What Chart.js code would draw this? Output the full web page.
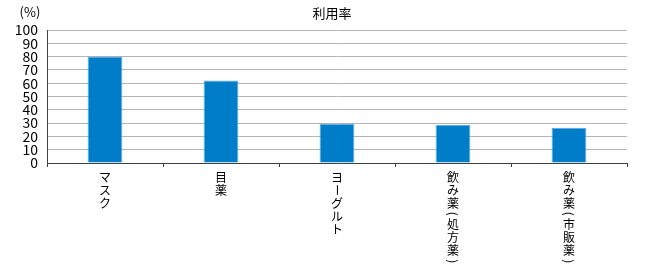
<!DOCTYPE html>
<html>
<head>
<meta charset="utf-8">
<script src="https://cdn.jsdelivr.net/npm/chart.js@4"></script>
<style>
  html, body { margin: 0; padding: 0; background: #fff; }
  #wrap { width: 650px; height: 280px; }
</style>
</head>
<body>
<div id="wrap"><canvas id="chart"></canvas></div>
<script>
const categories = ["マスク", "目薬", "ヨーグルト", "飲み薬(処方薬)", "飲み薬(市販薬)"];
const usageRate = [80, 62, 29.5, 28.5, 26.5];
const chartTitle = "利用率";
const unitLabel = "(%)";

const FONT = "'Noto Sans CJK JP', 'Noto Sans', sans-serif";
// characters turned sideways when written vertically
const ROTATED = "()ー";

// title and unit text above the plot
const headerText = {
  id: "headerText",
  afterDraw(chart) {
    const ctx = chart.ctx;
    ctx.save();
    ctx.fillStyle = "#000";
    ctx.textBaseline = "middle";
    ctx.textAlign = "center";
    ctx.font = "13px " + FONT;
    ctx.fillText(chartTitle, 332, 13);
    ctx.fillText(unitLabel, 30, 12);
    ctx.restore();
  }
};

// category names written top to bottom under each bar
const verticalLabels = {
  id: "verticalLabels",
  afterDraw(chart) {
    const ctx = chart.ctx;
    const xScale = chart.scales.x;
    ctx.save();
    ctx.fillStyle = "#000";
    ctx.textAlign = "center";
    ctx.textBaseline = "middle";
    ctx.font = "12px " + FONT;
    categories.forEach(function (label, i) {
      const x = xScale.getPixelForTick(i);
      let y = xScale.top + 7.5;
      Array.from(label).forEach(function (ch) {
        const isParen = ch === "(" || ch === ")";
        const h = isParen ? 8.6 : 13;
        const cy = y + h / 2;
        if (ROTATED.includes(ch)) {
          ctx.save();
          ctx.translate(x, cy);
          ctx.rotate(Math.PI / 2);
          ctx.fillText(ch, 0, 0);
          ctx.restore();
        } else {
          ctx.fillText(ch, x, cy);
        }
        y += h;
      });
    });
    ctx.restore();
  }
};

new Chart(document.getElementById("chart"), {
  type: "bar",
  data: {
    labels: categories,
    datasets: [{
      label: chartTitle,
      data: usageRate,
      backgroundColor: "#007dc8",
      borderColor: "#5aaee2",
      borderWidth: { left: 1, right: 1, top: 1, bottom: 0 },
      barPercentage: 0.3,
      categoryPercentage: 1
    }]
  },
  options: {
    responsive: true,
    maintainAspectRatio: false,
    animation: false,
    layout: { padding: { top: 30, right: 23, left: 0, bottom: 0 } },
    plugins: {
      legend: { display: false },
      title: { display: false },
      tooltip: { enabled: false }
    },
    scales: {
      x: {
        offset: true,
        grid: {
          display: true,
          offset: true,
          drawOnChartArea: false,
          drawTicks: true,
          tickLength: 4,
          color: "#404040"
        },
        border: { color: "#404040", width: 1 },
        ticks: { display: false },
        afterFit(scale) { scale.height = 117; }
      },
      y: {
        min: 0,
        max: 100,
        grid: { color: "#b4b4b4", drawTicks: false },
        border: { color: "#404040", width: 1 },
        ticks: {
          stepSize: 10,
          autoSkip: false,
          color: "#000",
          padding: 9,
          font: { family: FONT, size: 14 }
        },
        afterFit(scale) { scale.width = 47; }
      }
    }
  },
  plugins: [headerText, verticalLabels]
});
</script>
</body>
</html>
